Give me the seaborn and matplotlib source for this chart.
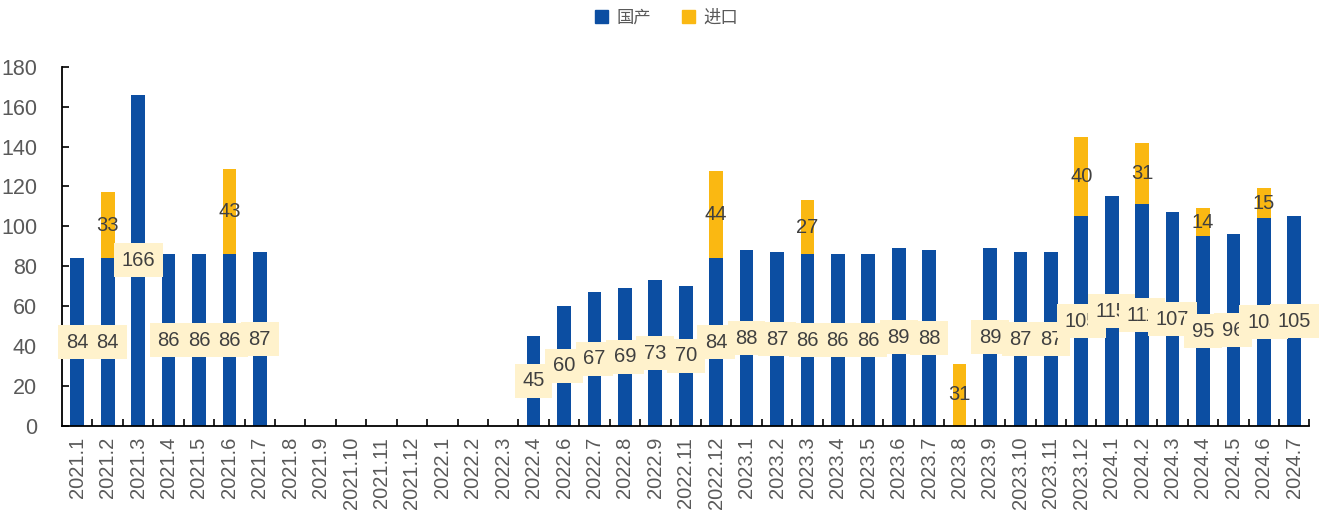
import numpy as np
import pandas as pd
import seaborn as sns
import matplotlib.pyplot as plt
from matplotlib.patches import Patch
from matplotlib.ticker import MultipleLocator, FixedLocator

months = ['2021.1', '2021.2', '2021.3', '2021.4', '2021.5', '2021.6', '2021.7', '2021.8',
          '2021.9', '2021.10', '2021.11', '2021.12', '2022.1', '2022.2', '2022.3', '2022.4',
          '2022.6', '2022.7', '2022.8', '2022.9', '2022.11', '2022.12', '2023.1', '2023.2',
          '2023.3', '2023.4', '2023.5', '2023.6', '2023.7', '2023.8', '2023.9', '2023.10',
          '2023.11', '2023.12', '2024.1', '2024.2', '2024.3', '2024.4', '2024.5', '2024.6',
          '2024.7']
domestic = [84, 84, 166, 86, 86, 86, 87, 0,
            0, 0, 0, 0, 0, 0, 0, 45,
            60, 67, 69, 73, 70, 84, 88, 87,
            86, 86, 86, 89, 88, 0, 89, 87,
            87, 105, 115, 111, 107, 95, 96, 104,
            105]
imported = [0, 33, 0, 0, 0, 43, 0, 0,
            0, 0, 0, 0, 0, 0, 0, 0,
            0, 0, 0, 0, 0, 44, 0, 0,
            27, 0, 0, 0, 0, 31, 0, 0,
            0, 40, 0, 31, 0, 14, 0, 15,
            0]

df = pd.DataFrame({'month': months, 'domestic': domestic, 'imported': imported})
df['total'] = df['domestic'] + df['imported']

blue = '#0C4EA2'
gold = '#FAB812'
txt = '#404040'
grey = '#595959'

sns.set_style('ticks')
plt.rcParams['font.family'] = ['Liberation Sans', 'Noto Sans CJK SC', 'DejaVu Sans']

fig = plt.figure(figsize=(13.2, 5.18), dpi=100)
ax = fig.add_axes([0.047, 0.178, 0.945, 0.693])

# stacked look: totals in gold behind, domestic in blue on top
sns.barplot(data=df, x='month', y='total', color=gold, width=0.45, saturation=1,
            linewidth=0, ax=ax)
sns.barplot(data=df, x='month', y='domestic', color=blue, width=0.45, saturation=1,
            linewidth=0, ax=ax)

dom_labels = [str(v) if v > 0 else '' for v in domestic]
ax.bar_label(ax.containers[1], labels=dom_labels, label_type='center', fontsize=14.5,
             color=txt, bbox=dict(boxstyle='square,pad=0.38', fc='#FFF2CC', ec='none'))

for i, (d, m) in enumerate(zip(domestic, imported)):
    if m > 0:
        ax.text(i, d + m / 2, str(m), ha='center', va='center', fontsize=14.5, color=txt)

ax.set_ylim(0, 180)
ax.set_xlim(-0.5, len(months) - 0.5)
ax.yaxis.set_major_locator(MultipleLocator(20))
ax.tick_params(axis='y', direction='in', length=5, width=1.2, color='black',
               labelsize=15.5, labelcolor=grey, pad=18)
ax.tick_params(axis='x', which='major', length=0, labelsize=14.5, labelcolor=grey,
               rotation=90, pad=8)
ax.xaxis.set_minor_locator(FixedLocator(np.arange(0.5, len(months), 1.0)))
ax.tick_params(axis='x', which='minor', direction='in', length=5, width=1.2, color='black')
ax.set_xlabel('')
ax.set_ylabel('')
sns.despine(ax=ax)
for s in ['left', 'bottom']:
    ax.spines[s].set_color('black')
    ax.spines[s].set_linewidth(1.3)

handles = [Patch(color=blue, label='国产'), Patch(color=gold, label='进口')]
leg = fig.legend(handles=handles, loc='center', bbox_to_anchor=(0.505, 0.966), ncol=2,
                 frameon=False, handlelength=0.75, handleheight=0.75,
                 handletextpad=0.45, columnspacing=1.8,
                 prop={'family': ['Noto Sans CJK SC'], 'size': 12.5})
for t in leg.get_texts():
    t.set_color(grey)

fig.savefig('out.png', dpi=100)
